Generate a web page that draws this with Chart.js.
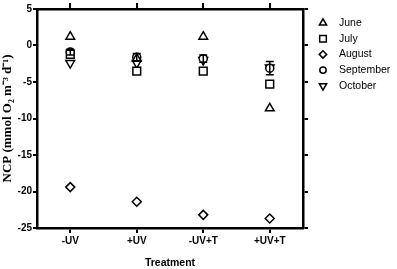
<!DOCTYPE html>
<html><head><meta charset="utf-8">
<script src="https://cdn.jsdelivr.net/npm/chart.js@4"></script>
<style>html,body{margin:0;padding:0;background:#fff}#w{width:397px;height:269px}</style>
</head><body><div id="w"><canvas id="c" width="397" height="269"></canvas></div>
<script>
const categories = ['-UV', '+UV', '-UV+T', '+UV+T'];
const june = [1.2, -1.8, 1.2, -8.6];
const july = [-1.2, -3.5, -3.5, -5.3];
const august = [-19.4, -21.4, -23.2, -23.7];
const september = [-0.9, -1.6, -1.8, -3.1];
const septemberErr = [0.4, 0.5, 0.5, 0.9];
const october = [-2.4, -2.4, -2.0, -3.0];
const yTicks = [5, 0, -5, -10, -15, -20, -25];

const mk = (label, data, style, rot, r) => ({
  label, data, showLine: false, pointStyle: style, pointRotation: rot || 0,
  pointRadius: r, pointHoverRadius: r, borderColor: '#000', backgroundColor: '#fff',
  pointBorderWidth: 1.5, borderWidth: 1.5
});
const datasets = [
  mk('June', june, 'triangle', 0, 5),
  mk('July', july, 'rect', 0, 5.5),
  mk('August', august, 'rectRot', 0, 4.5),
  mk('September', september, 'circle', 0, 4),
  mk('October', october, 'triangle', 180, 5)
];

const errPlugin = {
  id: 'err',
  afterDatasetsDraw(chart) {
    const ctx = chart.ctx, x = chart.scales.x, y = chart.scales.y;
    ctx.save(); ctx.strokeStyle = '#000'; ctx.lineWidth = 1.5;
    september.forEach((v, i) => {
      const px = x.getPixelForValue(i);
      const t = y.getPixelForValue(v + septemberErr[i]), b = y.getPixelForValue(v - septemberErr[i]);
      ctx.beginPath();
      ctx.moveTo(px, t); ctx.lineTo(px, b);
      ctx.moveTo(px - 4, t); ctx.lineTo(px + 4, t);
      ctx.moveTo(px - 4, b); ctx.lineTo(px + 4, b);
      ctx.stroke();
    });
    ctx.restore();
  }
};
const legendPlugin = {
  id: 'leg',
  afterDraw(chart) {
    const ctx = chart.ctx;
    ctx.save();
    ctx.font = '10.5px "Liberation Sans", Arial, sans-serif';
    ctx.textBaseline = 'middle'; ctx.fillStyle = '#000';
    chart.data.datasets.forEach((ds, i) => {
      const yy = 23 + i * 15.7;
      ctx.strokeStyle = '#000'; ctx.fillStyle = '#fff'; ctx.lineWidth = 1.5;
      Chart.helpers.drawPoint(ctx, {pointStyle: ds.pointStyle, rotation: ds.pointRotation, radius: ds.pointRadius - 0.8, borderWidth: 1.5}, 323, yy);
      ctx.fillStyle = '#000';
      ctx.fillText(ds.label, 339, yy);
    });
    ctx.restore();
  }
};

const tickFont = { family: '"Liberation Sans", Arial', weight: 'bold', size: 10 };
const gridBase = { drawOnChartArea: false, color: '#000', tickColor: '#000', lineWidth: 2, tickWidth: 2 };
new Chart(document.getElementById('c'), {
  type: 'line',
  data: { labels: categories, datasets },
  plugins: [errPlugin, legendPlugin],
  options: {
    responsive: false, animation: false, events: [],
    layout: { padding: 0 },
    plugins: { legend: { display: false }, tooltip: { enabled: false } },
    scales: {
      x: {
        type: 'category', position: 'bottom', offset: true,
        grid: { ...gridBase, offset: false, tickLength: 5 },
        border: { color: '#000', width: 2.5 },
        ticks: { color: '#000', font: tickFont, padding: 2, maxRotation: 0 },
        title: { display: true, text: 'Treatment', color: '#000', font: { family: '"Liberation Sans", Arial', weight: 'bold', size: 10.5 }, padding: { top: 0, bottom: 0 } },
        afterFit(s) { s.height = 41; }
      },
      x2: {
        type: 'category', position: 'top', offset: true, labels: categories,
        grid: { ...gridBase, offset: false, tickLength: 6 },
        border: { color: '#000', width: 2.5 },
        ticks: { display: false },
        afterFit(s) { s.height = 9; }
      },
      y: {
        position: 'left', min: -25, max: 5,
        afterBuildTicks(s) { s.ticks = yTicks.map(v => ({ value: v })); },
        grid: { ...gridBase, tickLength: 4 },
        border: { color: '#000', width: 2.5 },
        ticks: { color: '#000', font: tickFont, padding: 1 },
        title: { display: true, text: 'NCP (mmol O\u2082 m\u207B\u00B3 d\u207B\u00B9)', color: '#000', font: { family: '"Liberation Serif", "Times New Roman", serif', weight: 'bold', size: 13 }, padding: { top: 0, bottom: 0 } },
        afterFit(s) { s.width = 37; }
      },
      y2: {
        position: 'right', min: -25, max: 5,
        afterBuildTicks(s) { s.ticks = yTicks.map(v => ({ value: v })); },
        grid: { ...gridBase, tickLength: 5 },
        border: { color: '#000', width: 2.5 },
        ticks: { display: false },
        afterFit(s) { s.width = 94; }
      }
    }
  }
});
</script>
</body></html>
